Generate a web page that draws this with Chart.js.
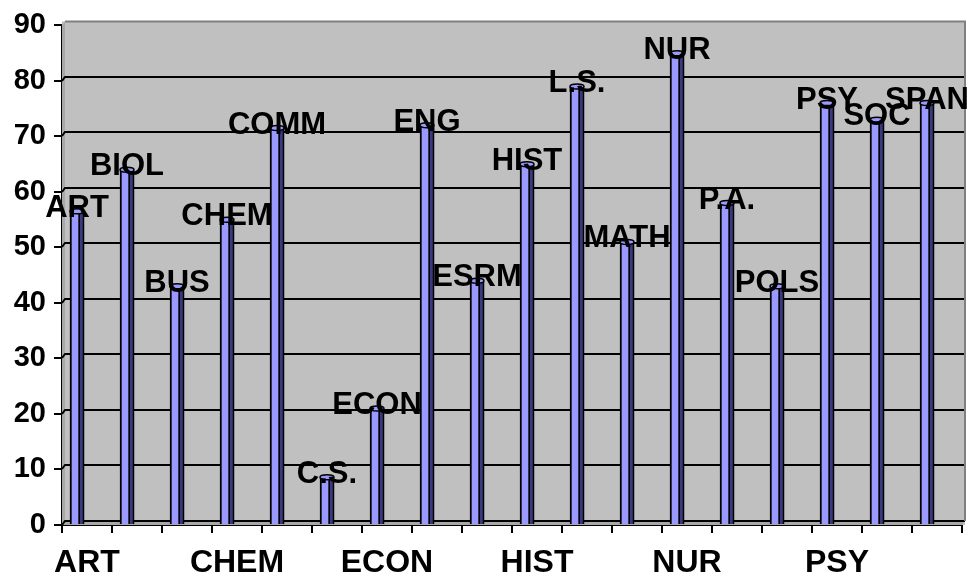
<!DOCTYPE html>
<html>
<head>
<meta charset="utf-8">
<script src="https://cdn.jsdelivr.net/npm/chart.js@4.4.1/dist/chart.umd.min.js"></script>
<style>
  html, body { margin: 0; padding: 0; background: #ffffff; }
  canvas { display: block; }
</style>
</head>
<body>
<canvas id="chart" width="971" height="577"></canvas>
<script>
// Departments along the category axis
const departments = ['ART', 'BIOL', 'BUS', 'CHEM', 'COMM', 'C.S.', 'ECON', 'ENG', 'ESRM',
                     'HIST', 'L.S.', 'MATH', 'NUR', 'P.A.', 'POLS', 'PSY', 'SOC', 'SPAN'];
// Column heights per department
const scores = [56.5, 64, 43, 55, 71.5, 8.6, 21, 72, 44, 65, 79, 51, 85, 58, 43, 76, 73, 76];
// Value axis
const yMin = 0, yMax = 90, yStep = 10;
// Every third department is named under the axis
const xLabelEvery = 3;

const FONT = "'Liberation Sans', Arial, sans-serif";
const DEPTH_X = 3, DEPTH_Y = 4;   // back-wall offset of the pseudo-3D plot
const SHIFT = -12;                // columns stand toward the front-left of each slot

// Grey walls, back-wall gridlines, shaded columns and their names
const wallPlugin = {
  id: 'walls',
  beforeDatasetsDraw(chart) {
    const { ctx, chartArea: a, scales: { y } } = chart;
    ctx.save();
    // back wall
    ctx.fillStyle = '#C0C0C0';
    ctx.fillRect(a.left, a.top - DEPTH_Y, a.right - a.left + DEPTH_X, a.bottom - a.top + DEPTH_Y);
    // side wall
    ctx.fillStyle = '#A8A8A8';
    ctx.beginPath();
    ctx.moveTo(a.left, a.top);
    ctx.lineTo(a.left + DEPTH_X, a.top - DEPTH_Y);
    ctx.lineTo(a.left + DEPTH_X, a.bottom - DEPTH_Y);
    ctx.lineTo(a.left, a.bottom);
    ctx.closePath();
    ctx.fill();
    // floor
    ctx.beginPath();
    ctx.moveTo(a.left, a.bottom);
    ctx.lineTo(a.left + DEPTH_X, a.bottom - DEPTH_Y);
    ctx.lineTo(a.right + DEPTH_X, a.bottom - DEPTH_Y);
    ctx.lineTo(a.right, a.bottom);
    ctx.closePath();
    ctx.fill();
    // gridlines on the back wall
    ctx.strokeStyle = '#000000';
    ctx.lineWidth = 2;
    for (let v = yMin; v < yMax; v += yStep) {
      const py = Math.round(y.getPixelForValue(v) - DEPTH_Y);
      ctx.beginPath();
      ctx.moveTo(a.left, py + DEPTH_Y);
      ctx.lineTo(a.left + DEPTH_X, py);
      ctx.lineTo(a.right + DEPTH_X, py);
      ctx.stroke();
    }
    // frame of the back wall (top and right)
    ctx.strokeStyle = '#808080';
    ctx.beginPath();
    ctx.moveTo(a.left + DEPTH_X, a.top - DEPTH_Y);
    ctx.lineTo(a.right + DEPTH_X, a.top - DEPTH_Y);
    ctx.lineTo(a.right + DEPTH_X, a.bottom - DEPTH_Y);
    ctx.stroke();
    ctx.restore();
  },
  beforeDatasetDraw(chart) {
    chart.ctx.save();
    chart.ctx.translate(SHIFT, 0);
  },
  afterDatasetDraw(chart, args) {
    const { ctx } = chart;
    args.meta.data.forEach((bar) => {
      const { x, y, base, width } = bar.getProps(['x', 'y', 'base', 'width'], true);
      const r = x + width / 2;
      // shaded side of the column
      ctx.fillStyle = '#3A3A80';
      ctx.fillRect(r, y + 1, 3, base - y - 1);
      ctx.strokeStyle = '#000000';
      ctx.lineWidth = 1.5;
      ctx.beginPath();
      ctx.moveTo(r + 3.5, y + 1);
      ctx.lineTo(r + 3.5, base);
      ctx.stroke();
      // rounded cap
      ctx.fillStyle = '#9999FF';
      ctx.beginPath();
      ctx.ellipse(x + 2, y, width / 2 + 2, 2.5, 0, 0, Math.PI * 2);
      ctx.fill();
      ctx.stroke();
    });
    ctx.restore();
  },
  afterDatasetsDraw(chart) {
    const { ctx } = chart;
    const meta = chart.getDatasetMeta(0);
    ctx.save();
    ctx.font = `bold 31px ${FONT}`;
    ctx.fillStyle = '#000000';
    ctx.textAlign = 'center';
    ctx.textBaseline = 'middle';
    meta.data.forEach((bar, i) => {
      ctx.fillText(departments[i], bar.x + SHIFT + 2, bar.y - 3);
    });
    ctx.restore();
  }
};

new Chart(document.getElementById('chart'), {
  type: 'bar',
  data: {
    labels: departments,
    datasets: [{
      data: scores,
      backgroundColor: '#9999FF',
      borderColor: '#000000',
      borderWidth: 2,
      barThickness: 10,
      borderSkipped: 'bottom'
    }]
  },
  options: {
    responsive: false,
    animation: false,
    events: [],
    layout: { padding: { top: 21, right: 9, left: 0, bottom: 0 } },
    plugins: {
      legend: { display: false },
      tooltip: { enabled: false },
      title: { display: false }
    },
    scales: {
      x: {
        offset: true,
        grid: { offset: true, drawOnChartArea: false, drawTicks: true, tickLength: 8, color: '#000000', lineWidth: 2 },
        border: { display: true, color: '#000000', width: 2 },
        ticks: {
          autoSkip: false,
          maxRotation: 0,
          padding: 11,
          color: '#000000',
          font: { family: FONT, size: 32, weight: 'bold' },
          callback: (v, i) => (i % xLabelEvery === 0 ? departments[i] : '')
        },
        afterFit: (s) => { s.height = 52; }
      },
      y: {
        min: yMin,
        max: yMax,
        grid: { drawOnChartArea: false, drawTicks: true, tickLength: 8, color: '#000000', lineWidth: 2 },
        border: { display: true, color: '#000000', width: 2 },
        ticks: {
          stepSize: yStep,
          padding: 8,
          color: '#000000',
          font: { family: FONT, size: 29, weight: 'bold' }
        },
        afterFit: (s) => { s.width = 62; }
      }
    }
  },
  plugins: [wallPlugin]
});
</script>
</body>
</html>
